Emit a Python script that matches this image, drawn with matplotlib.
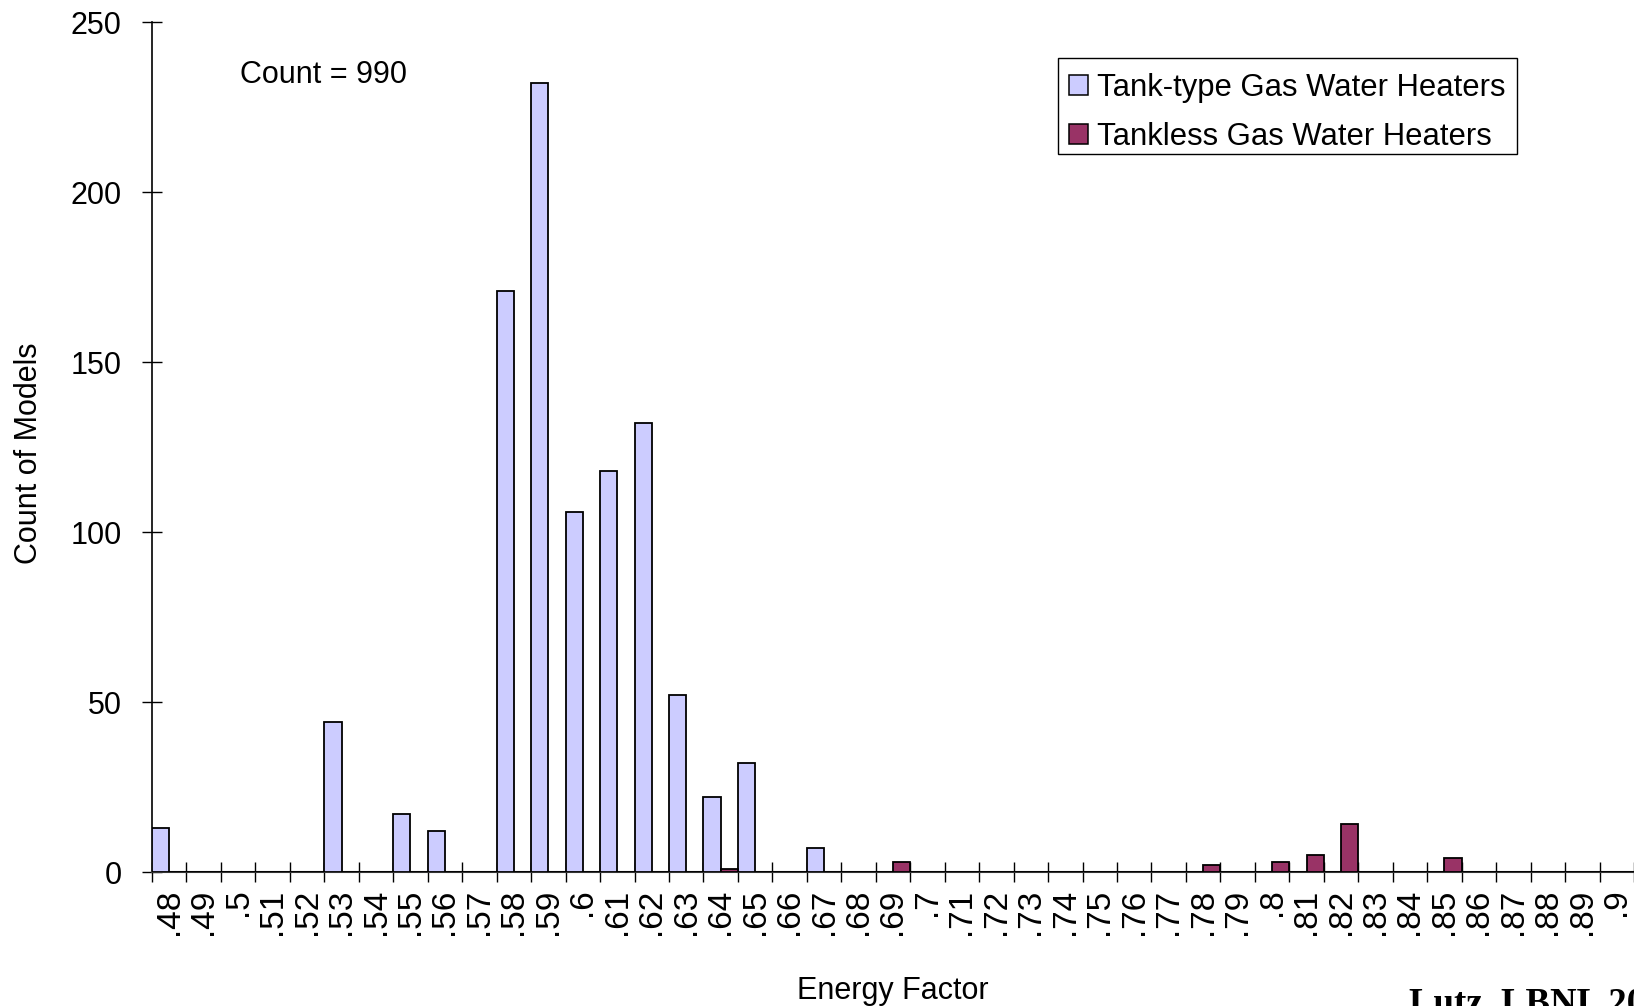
import numpy as np
import matplotlib.pyplot as plt
from matplotlib.patches import Patch, Rectangle

# Energy factor bins and model counts
categories = ['.48', '.49', '.5', '.51', '.52', '.53', '.54', '.55', '.56', '.57',
              '.58', '.59', '.6', '.61', '.62', '.63', '.64', '.65', '.66', '.67',
              '.68', '.69', '.7', '.71', '.72', '.73', '.74', '.75', '.76', '.77',
              '.78', '.79', '.8', '.81', '.82', '.83', '.84', '.85', '.86', '.87',
              '.88', '.89', '.9']
tank = [13, 0, 0, 0, 0, 44, 0, 17, 12, 0,
        171, 232, 106, 118, 132, 52, 22, 32, 0, 7,
        0, 0, 0, 0, 0, 0, 0, 0, 0, 0,
        0, 0, 0, 0, 0, 0, 0, 0, 0, 0,
        0, 0, 0]
tankless = [0, 0, 0, 0, 0, 0, 0, 0, 0, 0,
            0, 0, 0, 0, 0, 0, 1, 0, 0, 0,
            0, 3, 0, 0, 0, 0, 0, 0, 0, 0,
            2, 0, 3, 5, 14, 0, 0, 4, 0, 0,
            0, 0, 0]
series_names = ['Tank-type Gas Water Heaters', 'Tankless Gas Water Heaters']
colors = ['#CCCCFF', '#993366']

plt.rcParams['font.family'] = ['Liberation Sans', 'DejaVu Sans']
FS = 22

W, H = 1634, 1006
fig = plt.figure(figsize=(W / 100, H / 100), dpi=100)
ax = fig.add_axes([152 / W, 1 - 872 / H, 1 - 152 / W, (872 - 22) / H])

x = np.arange(len(categories))
ax.bar(x + 0.25, tank, width=0.5, color=colors[0], edgecolor='black', linewidth=1.3, zorder=3)
ax.bar(x + 0.75, tankless, width=0.5, color=colors[1], edgecolor='black', linewidth=1.3, zorder=3)

ax.set_xlim(0, len(categories))
ax.set_ylim(0, 250)

# boundary ticks (major), labels at slot centres (minor)
ax.set_xticks(np.arange(len(categories) + 1))
ax.set_xticklabels([])
ax.set_xticks(x + 0.5, minor=True)
ax.set_xticklabels(categories, minor=True, rotation=90, fontsize=24)
ax.tick_params(axis='x', which='major', direction='inout', length=14, width=1)
ax.tick_params(axis='x', which='minor', length=0, pad=12)
ax.set_yticks([0, 50, 100, 150, 200, 250])
ax.tick_params(axis='y', direction='inout', length=14, width=1, labelsize=FS, pad=15)

for s in ['top', 'right']:
    ax.spines[s].set_visible(False)
ax.spines['left'].set_linewidth(1.2)
ax.spines['bottom'].set_linewidth(1.5)
ax.spines['bottom'].set_color('#333333')

fig.text(29 / W, 1 - 453 / H, 'Count of Models', rotation=90, ha='center', va='center', fontsize=FS)
fig.text(893 / W, 1 - 991 / H, 'Energy Factor', ha='center', va='center', fontsize=FS)
fig.text(240 / W, 1 - 75 / H, 'Count = 990', ha='left', va='center', fontsize=FS)
fig.text(1409 / W, 1 - 1013 / H, 'Lutz, LBNL 2006', ha='left', va='baseline',
         fontsize=26.5, fontweight='bold', family='Liberation Serif')

# legend entries without frame, box drawn separately
handles = [Patch(facecolor=c, edgecolor='black', linewidth=1.1) for c in colors]
fig.legend(handles, series_names, loc='upper left',
           bbox_to_anchor=(1058 / W, 1 - 62 / H), fontsize=22.3,
           handlelength=0.6, handleheight=0.6, handletextpad=0.3,
           labelspacing=0.61, borderpad=0.36, borderaxespad=0, frameon=False)
fig.patches.append(Rectangle((1058 / W, 1 - 154 / H), (1517 - 1058) / W, (154 - 58) / H,
                             transform=fig.transFigure, fill=False,
                             edgecolor='black', linewidth=1.0))

fig.savefig('out.png', dpi=100)
